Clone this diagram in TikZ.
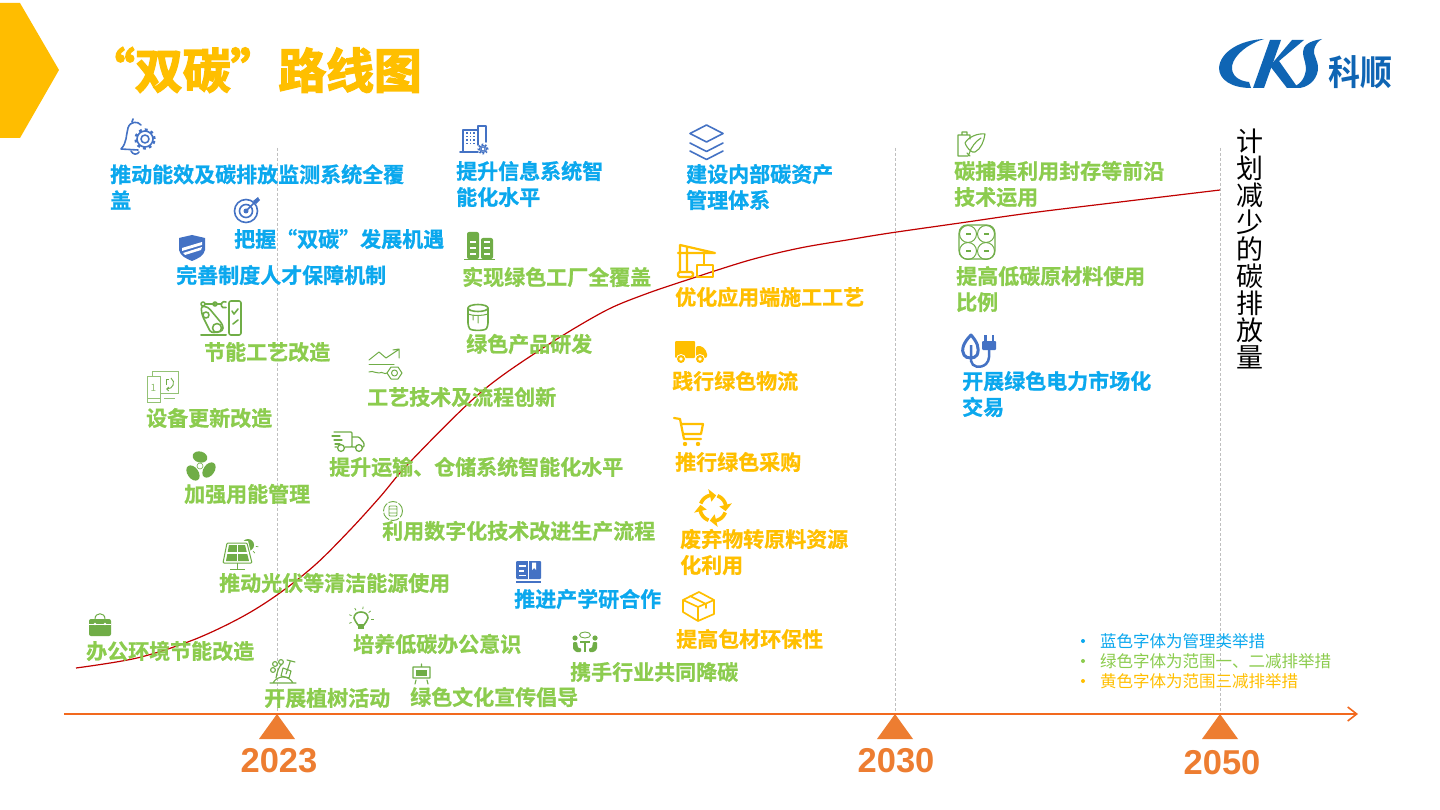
\documentclass[tikz,border=0pt]{standalone}
\usepackage{fontspec}
\setmainfont{Noto Sans CJK SC}
\newfontfamily\cjkbold[UprightFont=* Bold,FakeBold=0.9]{Noto Sans CJK SC}
\newfontfamily\titlebold[UprightFont=* Bold,FakeBold=3]{Noto Sans CJK SC}
\newfontfamily\logobold[UprightFont=* Bold]{Noto Sans CJK SC}
\newfontfamily\latinbold[UprightFont=* Bold]{Liberation Sans}
\usetikzlibrary{arrows.meta,calc}
\definecolor{txtblue}{HTML}{0BA8EE}
\definecolor{txtgreen}{HTML}{8CCC4E}
\definecolor{txtyellow}{HTML}{FFBF00}
\definecolor{iconblue}{HTML}{4472C4}
\definecolor{icongreen}{HTML}{70AD47}
\definecolor{axisorange}{HTML}{F2691E}
\definecolor{tickorange}{HTML}{ED7D31}
\definecolor{curvered}{HTML}{C00000}
\definecolor{logoblue}{HTML}{0F65B4}
\tikzset{
    item/.style={anchor=west,inner sep=0pt,xshift=-1pt,align=left,font=\fontsize{21}{26}\selectfont\cjkbold},
    blueitem/.style={item,text=txtblue},
    greenitem/.style={item,text=txtgreen},
    yellowitem/.style={item,text=txtyellow},
    legendtext/.style={anchor=west,inner sep=0pt,font=\fontsize{16.5}{20}\selectfont},
    legenddot/.style={circle,inner sep=0pt,minimum size=4pt},
    yearlabel/.style={inner sep=0pt,text=tickorange,font=\fontsize{34.5}{40}\selectfont\latinbold},
    guide/.style={draw=black!25,line width=.9pt,dash pattern=on 3pt off 2pt},
    ib/.style={draw=iconblue,line width=1.6pt,line join=round,line cap=round},
    ig/.style={draw=icongreen,line width=1.6pt,line join=round,line cap=round},
    iy/.style={draw=txtyellow,line width=2.2pt,line join=round,line cap=round},
    bellgear/.pic={
        \draw[ib] (20,6) .. controls (17,2) and (9,2) .. (7,9) .. controls (5,16) and (6,24) .. (0,30) -- (17,31);
        \draw[ib] (11,3) -- (12,0);
        \draw[ib] (10,32) .. controls (12,36) and (16,36) .. (18,33);
        \fill[white] (24,20) circle (10pt);
        \draw[ib] (24,20) circle (4pt) (24,20) circle (8pt);
        \draw[iconblue,line width=2.6pt,dash pattern=on 2.8pt off 3.2pt] (24,20) circle (9.4pt);
    },
    aim/.pic={
        \draw[ib] (12,12) circle (11.5pt) (12,12) circle (6.5pt);
        \fill[iconblue] (12,12) circle (2.5pt);
        \draw[ib] (12,12) -- (23,1);
        \fill[iconblue] (19,2) -- (24,-2) -- (25,0) -- (26,1) -- (22,5) -- cycle;
    },
    shield/.pic={
        \fill[iconblue] (0,3) -- (13,0) -- (26,3) -- (26,15) .. controls (25,21) and (18,24) .. (13,26) .. controls (8,24) and (1,21) .. (0,15) -- cycle;
        \fill[white] (3,13) -- (23,7) -- (23,10) -- (3,16) -- cycle (4,18) -- (23,12) -- (22,15) -- (6,20) -- cycle;
    },
    robot/.pic={
        \draw[ig,line width=2pt] (0,34) -- (25,34);
        \draw[ig,rounded corners=2pt] (28,0) rectangle (40,34);
        \draw[ig] (31,10) -- (33,13) -- (37,8) (32,23) -- (37,19);
        \draw[ig] (2,3) circle (2pt) (14,3) circle (2pt) -- (4,3) (16,3) -- (20,3);
        \draw[ig] (25,1) arc (60:300:3.2pt);
        \draw[ig,rounded corners=3pt] (0,5) -- (1,14) -- (10,32) -- (22,30) -- (22,24) -- (7,6) -- cycle;
        \draw[ig] (5,14) circle (3pt) (16,27) circle (4.5pt);
    },
    device/.pic={
        \draw[icongreen!75,line width=.8pt] (0,5) rectangle (13,31) (0,27) -- (13,27) (5,0) -- (31,0) -- (31,22) -- (13,22) (5,0) -- (5,5) (17,27) -- (28,27);
        \node[inner sep=0pt,text=icongreen!75,font=\fontsize{10}{10}\selectfont] (devnum) at (6.5,17) {1};
        \draw[icongreen,line width=.9pt,-{Straight Barb[length=2pt]}] (24,7) .. controls (29,11) and (26,18) .. (19,18);
        \draw[icongreen,line width=.9pt] (19,14) -- (19,8) -- (22,8);
    },
    leaves/.pic={
        \fill[icongreen] (0,-9) ellipse[x radius=7.5pt,y radius=5.5pt,rotate=-15];
        \fill[icongreen] (9,4) ellipse[x radius=8.5pt,y radius=5.5pt,rotate=55];
        \fill[icongreen] (-7,7) ellipse[x radius=8.5pt,y radius=5.5pt,rotate=-55];
        \draw[icongreen,line width=.6pt] (0,0) circle (3pt);
    },
    trend/.pic={
        \draw[ig,line width=1pt] (0,11) -- (10,3) -- (17,9) -- (29,1) (24,1) -- (30,0) -- (30,9);
        \draw[ig,line width=1pt] (0,15) -- (25,15);
        \draw[ig,line width=1pt] (0,23) .. controls (5,21) and (6,25) .. (10,24) .. controls (14,22) and (15,26) .. (18,24);
        \draw[ig,line width=1pt] (18,24) -- (22,18) -- (29,18) -- (33,24) -- (29,30) -- (22,30) -- cycle (25.5,24) circle (3pt);
    },
    lorry/.pic={
        \draw[ig,line width=1.3pt,rounded corners=1pt] (2,0) -- (20,0) -- (20,15) -- (13,15) (5,15) -- (3,15) (20,5) -- (27,5) -- (32,11) -- (32,15) -- (30,15) (24,15) -- (20,15);
        \draw[ig,line width=1.3pt] (9,16) circle (3.4pt) (27,16) circle (3.4pt);
        \draw[ig,line width=1.3pt] (0,4) -- (8,4) (2,8) -- (10,8) (3,12) -- (8,12);
    },
    digital/.pic={
        \draw[icongreen,line width=.9pt,dash pattern=on 9pt off 1.5pt] (0,0) circle (9.5pt);
        \draw[icongreen,line width=.9pt,rounded corners=1pt] (-4,-5) rectangle (4,5) (-4,-2) -- (4,-2) (-4,2) -- (4,2);
    },
    solar/.pic={
        \fill[icongreen] (25,8) circle (6pt);
        \foreach \a in {-170,-130,...,10}
            \draw[icongreen,line width=.7pt] ($(25,8)+(\a:8pt)$) -- ($(25,8)+(\a:10.5pt)$);
        \fill[white] (3,4) -- (25,4) -- (31,28) -- (-2,28) -- cycle;
        \draw[icongreen,line width=1pt,rounded corners=1pt] (4,6) -- (24,6) -- (29,26) -- (0,26) -- cycle;
        \fill[icongreen] (6,8) -- (22,8) -- (26,24) -- (3,24) -- cycle;
        \draw[white,line width=1.2pt] (14.5,8) -- (14.5,24) (3,16) -- (26,16);
        \draw[icongreen,line width=1.4pt] (14.5,26) -- (14.5,32) (7,32.5) -- (22,32.5);
    },
    bag/.pic={
        \fill[icongreen,rounded corners=2pt] (0,5) rectangle (22,22);
        \draw[icongreen,line width=1pt] (6,5) .. controls (6,-2) and (16,-2) .. (16,5);
        \draw[white,line width=.7pt] (0,10) -- (22,10);
        \fill[white] (6,10) circle (1.3pt) (16,10) circle (1.3pt);
    },
    bulb/.pic={
        \draw[ig] (-3,6) .. controls (-4,3) and (-7,2) .. (-7,-1) .. controls (-7,-9) and (7,-9) .. (7,-1) .. controls (7,2) and (4,3) .. (3,6) -- cycle;
        \fill[icongreen] (-3,7) rectangle (3,10);
        \foreach \a in {-200,-160,...,20}
            \draw[icongreen,line width=.8pt] (\a:10) -- (\a:12.5);
    },
    planting/.pic={
        \draw[ig,line width=1.1pt] (0,25) -- (26,25) (3,25) .. controls (7,17) and (19,17) .. (23,25);
        \draw[ig,line width=1.1pt] (20,4) -- (16,16) (13,10) -- (21,13) -- (19,20) -- (11,18) -- cycle (17,2) -- (25,4);
        \draw[ig,line width=1.1pt] (6,20) .. controls (7,14) and (9,8) .. (12,6) (5,6) circle (2.4pt) (11,4) circle (2.4pt) (3,12) circle (2.4pt);
    },
    easel/.pic={
        \draw[ig,line width=1.1pt] (1,3) rectangle (18,14) (9.5,0) -- (9.5,3) (4,16) -- (3,20) (15,16) -- (16,20);
        \fill[icongreen] (4,5.5) rectangle (15,11.5);
    },
    openbook/.pic={
        \fill[iconblue,rounded corners=1pt] (0,0) rectangle (25,18);
        \draw[iconblue,line width=1.2pt] (0,21) -- (25,21);
        \draw[white,line width=1.3pt] (3,5) -- (10,5) (3,10) -- (8,10) (3,14.5) -- (10,14.5);
        \fill[white] (16,1.5) -- (20,1.5) -- (20,9) -- (18,7) -- (16,9) -- cycle;
        \draw[white,line width=.7pt] (12.5,0) -- (12.5,18);
    },
    people/.pic={
        \fill[icongreen] (2,6) circle (2.6pt) (22,6) circle (2.6pt);
        \draw[icongreen,line width=.9pt] (12,3) ellipse[x radius=5.5pt,y radius=3pt];
        \draw[icongreen,line width=1.5pt] (7,10) -- (17,10) (12,10) -- (12,20);
        \fill[icongreen,rounded corners=1pt] (0,10) -- (4,10) -- (5,16) -- (8,16) -- (8,20) -- (3,20) -- (0,17) -- cycle;
        \fill[icongreen,rounded corners=1pt] (24,10) -- (20,10) -- (19,16) -- (16,16) -- (16,20) -- (21,20) -- (24,17) -- cycle;
    },
    office/.pic={
        \draw[ib] (0,27) -- (18,27) (3,27) -- (3,5) -- (18,5) -- (18,20) (18,5) -- (18,1) -- (26,1) -- (26,17);
        \foreach \i in {8,11.5,...,20}
            \foreach \j in {7,10.5,14}
                \fill[iconblue] (\j-.9,\i-.9) rectangle (\j+.9,\i+.9);
        \draw[ib,line width=1pt] (23,24) circle (2pt) (23,24) circle (3.6pt);
        \draw[iconblue,line width=1.4pt,dash pattern=on 1.6pt off 2pt] (23,24) circle (4.8pt);
    },
    factory/.pic={
        \fill[icongreen,rounded corners=2pt] (3,0) rectangle (15,27);
        \fill[icongreen,rounded corners=2pt] (17,6) rectangle (29,27);
        \draw[icongreen,line width=1.4pt] (0,27.5) -- (31,27.5);
        \foreach \i in {10,16,22} \draw[white,line width=1.4pt] (6,\i) -- (12,\i) (20,\i) -- (26,\i);
    },
    paintcan/.pic={
        \draw[ig,rounded corners=3pt] (0,4) -- (0,22) .. controls (3,27) and (17,27) .. (20,22) -- (20,4);
        \draw[ig] (10,4) ellipse[x radius=10pt,y radius=3.5pt];
        \draw[ig,line width=1pt] (0,10) .. controls (5,12) and (14,12) .. (20,10) (5,11) -- (5,16) (10,12) -- (10,19);
    },
    layers/.pic={
        \draw[ib] (17.5,0) -- (34,8.5) -- (17.5,17) -- (1,8.5) -- cycle;
        \draw[ib] (1,18) -- (17.5,26.5) -- (34,18) (1,26) -- (17.5,34.5) -- (34,26);
    },
    crane/.pic={
        \draw[iy] (2,1) -- (37,9) (0,9) -- (37,9) (2,1) -- (2,28) (9,3) -- (9,28);
        \draw[iy,rounded corners=1.5pt] (0,28) rectangle (15,33);
        \draw[iy] (26,9) -- (26,21);
        \draw[iy] (19,21) rectangle (35,33);
    },
    vanfill/.pic={
        \fill[txtyellow,rounded corners=1pt] (0,0) rectangle (20,17);
        \fill[txtyellow,rounded corners=2pt] (21,5) -- (27,5) -- (32,11) -- (32,17) -- (21,17) -- cycle;
        \fill[white] (6,18) circle (5pt) (25,18) circle (5pt);
        \fill[txtyellow] (6,18) circle (4pt) (25,18) circle (4pt);
        \fill[white] (6,18) circle (1.8pt) (25,18) circle (1.8pt);
    },
    cart/.pic={
        \draw[iy] (0,0) -- (6,1) -- (10,21) -- (27,21) (7,6) -- (29,6) -- (27,16) -- (9,16);
        \fill[txtyellow] (11,26) circle (2.2pt) (24,26) circle (2.2pt);
    },
    cycle/.pic={
        \foreach \a in {20,110,200,290} {
            \draw[txtyellow,line width=3.6pt] plot[smooth,variable=\t,domain=\a:\a+58,samples=8] (\t:13);
            \fill[txtyellow] (\a+56:6.5) -- (\a+56:19.5) -- (\a+84:13) -- cycle;
        }
    },
    parcel/.pic={
        \draw[iy,line width=1.7pt] (16,0) -- (31,8) -- (31,22) -- (15,29) -- (0,20) -- (0,8) -- cycle (0,8) -- (15,15) -- (31,8) (15,15) -- (15,29) (7,4) -- (23,12) -- (23,16);
    },
    leafcell/.pic={
        \draw[ig,line width=1.1pt] (0,4) -- (12,4) -- (12,8) (4,4) -- (4,1) -- (9,1) -- (9,4) (0,4) -- (0,25) -- (10,25) (9,22) -- (12,25);
        \draw[ig,line width=1.1pt] (27,3) .. controls (20,2) and (10,6) .. (7,12) .. controls (10,19) and (14,22) .. (17,21) .. controls (23,18) and (26,10) .. (27,3) -- cycle (11,23) .. controls (13,16) and (18,10) .. (23,7);
    },
    quad/.pic={
        \draw[ig,line width=1.1pt,rounded corners=8pt] (0,0) rectangle (36,34);
        \foreach \x/\y in {9/9,27/9,9/26,27/26} {
            \draw[ig,line width=1pt] (\x,\y) circle (8.5pt);
            \fill[icongreen] (\x-2.5,\y-1.3) rectangle (\x+2.5,\y+1.3);
        }
    },
    leafplug/.pic={
        \draw[iconblue,line width=3pt,line join=round] (9,2) .. controls (1,10) and (-1,17) .. (2,22) .. controls (4,26) and (13,26) .. (15,22) .. controls (18,15) and (15,9) .. (9,2) -- cycle;
        \draw[iconblue,line width=2.5pt] (9,12) -- (9,28) .. controls (10,34) and (18,36) .. (24,31) .. controls (28,27) and (27,22) .. (27,16);
        \fill[iconblue,rounded corners=1pt] (20,8) rectangle (34,17);
        \draw[iconblue,line width=2.6pt] (23.5,2) -- (23.5,9) (31,2) -- (31,9);
    },
}
\begin{document}
\begin{tikzpicture}[x=1pt,y=-1pt]
    \useasboundingbox (0,0) rectangle (1440,810);
    \fill[white] (0,0) rectangle (1440,810);
    \fill[txtyellow!97!orange] (0,3) -- (20,3) -- (59,70) -- (20,138) -- (0,138) -- cycle;
    \node[anchor=west,inner sep=0pt,text=txtyellow,font=\fontsize{47.8}{50}\selectfont\titlebold] (title) at (87,70) {“双碳”路线图};

    % logo
    \fill[logoblue] (1264,39) .. controls (1240,40) and (1220,52) .. (1219,68) .. controls (1219,80) and (1232,88) .. (1251,88) -- (1249,82) .. controls (1238,81) and (1231,75) .. (1232,66) .. controls (1234,54) and (1250,43) .. (1264,39) -- cycle;
    \fill[logoblue] (1270,40) -- (1281,40) -- (1264,88) -- (1253,88) -- cycle;
    \fill[logoblue] (1292,40) -- (1304,40) -- (1279,61) -- (1298,88) -- (1287,88) -- (1270,66) -- cycle;
    \fill[logoblue] (1322,39) .. controls (1308,41) and (1303,46) .. (1303,52) .. controls (1303,60) and (1308,65) .. (1305,74) .. controls (1303,82) and (1296,87) .. (1290,88) -- (1300,88) .. controls (1312,86) and (1318,76) .. (1318,68) .. controls (1318,60) and (1313,55) .. (1314,50) .. controls (1315,45) and (1318,41) .. (1322,39) -- cycle;
    \node[inner sep=0pt,text=logoblue,font=\fontsize{32}{34}\selectfont\logobold] (brand) at (1360,72) {\scalebox{1}[1.1]{科顺}};

    % timeline
    \coordinate (axisstart) at (64,714);
    \coordinate (axisend) at (1358,714);
    \foreach \x/\xl/\yl/\yr in {277/279/761/2023,895/896/761/2030,1220/1222/763/2050} {
        \coordinate (guide\yr) at (\x,148);
        \coordinate (tick\yr) at (\x,714);
        \draw[guide] (guide\yr) -- (tick\yr);
        \fill[tickorange] (tick\yr) -- (\x+18,739) -- (\x-18,739) -- cycle;
        \node[yearlabel] (year\yr) at (\xl,\yl) {\yr};
    }
    \draw[axisorange,line width=1.6pt,-{Straight Barb[length=9pt,width=14pt]}] (axisstart) -- (axisend);

    % reduction curve
    \draw[curvered,line width=1.2pt] plot[smooth,tension=.55] coordinates {(76,668) (137,658) (193,640) (240,618) (277,595) (315,565) (350,530) (380,497) (410,462) (480,393) (543,348) (603,312) (643,295) (690,279) (750,260) (800,248) (850,239.5) (890,233) (960,223) (1030,213) (1120,202) (1220,190)};

    % management
    \node[blueitem] (monitor) at (111,187) {推动能效及碳排放监测系统全覆\\盖};
    \node[blueitem] (chance) at (235,239) {把握“双碳”发展机遇};
    \node[blueitem] (system) at (177,275) {完善制度人才保障机制};
    \node[blueitem] (infosys) at (457,184) {提升信息系统智\\能化水平};
    \node[blueitem] (asset) at (687,187) {建设内部碳资产\\管理体系};
    \node[blueitem] (research) at (515,599) {推进产学研合作};
    \node[blueitem] (market) at (963,394) {开展绿色电力市场化\\交易};

    % scope one and two
    \node[greenitem] (saving) at (205,352) {节能工艺改造};
    \node[greenitem] (renew) at (147,418) {设备更新改造};
    \node[greenitem] (energy) at (185,494) {加强用能管理};
    \node[greenitem] (solartext) at (220,583) {推动光伏等清洁能源使用};
    \node[greenitem] (officetext) at (87,651) {办公环境节能改造};
    \node[greenitem] (trees) at (265,698) {开展植树活动};
    \node[greenitem] (habit) at (354,644) {培养低碳办公意识};
    \node[greenitem] (culture) at (411,697) {绿色文化宣传倡导};
    \node[greenitem] (sector) at (571,672) {携手行业共同降碳};
    \node[greenitem] (digit) at (383,531) {利用数字化技术改进生产流程};
    \node[greenitem] (transport) at (330,467) {提升运输、仓储系统智能化水平};
    \node[greenitem] (process) at (368,397) {工艺技术及流程创新};
    \node[greenitem] (product) at (467,344) {绿色产品研发};
    \node[greenitem] (plant) at (463,277) {实现绿色工厂全覆盖};
    \node[greenitem] (capture) at (955,184) {碳捕集利用封存等前沿\\技术运用};
    \node[greenitem] (material) at (957,289) {提高低碳原材料使用\\比例};

    % scope three
    \node[yellowitem] (build) at (676,297) {优化应用端施工工艺};
    \node[yellowitem] (logistic) at (673,381) {践行绿色物流};
    \node[yellowitem] (purchase) at (676,462) {推行绿色采购};
    \node[yellowitem] (waste) at (681,552) {废弃物转原料资源\\化利用};
    \node[yellowitem] (packing) at (677,639) {提高包材环保性};

    \node[inner sep=0pt,align=center,font=\fontsize{27}{27}\selectfont] (reduction) at (1250,249) {计\\划\\减\\少\\的\\碳\\排\\放\\量};

    % legend
    \foreach \yy/\col/\txt in {641/txtblue/蓝色字体为管理类举措,661/txtgreen/绿色字体为范围一、二减排举措,681/txtyellow/黄色字体为范围三减排举措} {
        \node[legenddot,fill=\col] (dot\yy) at (1083,\yy) {};
        \node[legendtext,text=\col] (legend\yy) at (1100,\yy) {\txt};
    }

    % icons
    \pic at (121,119) {bellgear};
    \pic at (234,199) {aim};
    \pic at (179,235) {shield};
    \pic at (201,301) {robot};
    \pic at (147,371) {device};
    \pic at (200,466) {leaves};
    \pic at (369,349) {trend};
    \pic at (332,432) {lorry};
    \pic at (393,511) {digital};
    \pic at (223,537) {solar};
    \pic at (89,614) {bag};
    \pic at (361,619) {bulb};
    \pic at (270,658) {planting};
    \pic at (412,664) {easel};
    \pic at (516,561) {openbook};
    \pic at (573,632) {people};
    \pic at (460,125) {office};
    \pic at (464,232) {factory};
    \pic at (468,304) {paintcan};
    \pic at (689,125) {layers};
    \pic at (678,244) {crane};
    \pic at (675,341) {vanfill};
    \pic at (674,418) {cart};
    \pic at (713,508) {cycle};
    \pic at (683,592) {parcel};
    \pic at (958,131) {leafcell};
    \pic at (959,225) {quad};
    \pic at (962,333) {leafplug};
\end{tikzpicture}
\end{document}
